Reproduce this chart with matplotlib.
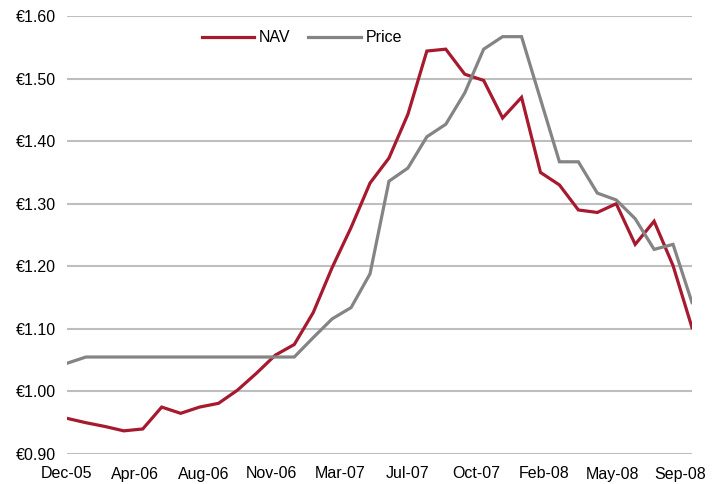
import matplotlib
matplotlib.use("Agg")
import matplotlib.pyplot as plt
import numpy as np

months = ["Dec-05","Jan-06","Feb-06","Mar-06","Apr-06","May-06","Jun-06","Jul-06","Aug-06","Sep-06","Oct-06","Nov-06",
          "Dec-06","Jan-07","Feb-07","Mar-07","Apr-07","May-07","Jun-07","Jul-07","Aug-07","Sep-07","Oct-07","Nov-07",
          "Dec-07","Jan-08","Feb-08","Mar-08","Apr-08","May-08","Jun-08","Jul-08","Aug-08","Sep-08"]
nav = [0.957, 0.950, 0.944, 0.937, 0.940, 0.975, 0.965, 0.975, 0.981, 1.002, 1.029, 1.058,
       1.075, 1.126, 1.198, 1.262, 1.333, 1.373, 1.443, 1.544, 1.547, 1.507, 1.497, 1.437,
       1.470, 1.350, 1.330, 1.290, 1.286, 1.300, 1.235, 1.272, 1.201, 1.102]
price = [1.045, 1.055, 1.055, 1.055, 1.055, 1.055, 1.055, 1.055, 1.055, 1.055, 1.055, 1.055,
         1.055, 1.086, 1.116, 1.134, 1.188, 1.336, 1.357, 1.407, 1.427, 1.477, 1.547, 1.567,
         1.567, 1.467, 1.367, 1.367, 1.317, 1.306, 1.276, 1.227, 1.235, 1.142]
xtick_labels = ["Dec-05","Apr-06","Aug-06","Nov-06","Mar-07","Jul-07","Oct-07","Feb-08","May-08","Sep-08"]
yticks = [0.90, 1.00, 1.10, 1.20, 1.30, 1.40, 1.50, 1.60]

plt.rcParams['font.family'] = ['Liberation Sans', 'DejaVu Sans']

fig = plt.figure(figsize=(7.13, 4.84), dpi=100)
ax = fig.add_axes([67/713, 1-454/484, (692-67)/713, (454-16)/484])

x = np.arange(len(months))
ax.plot(x, nav, color='#A6192E', lw=2.3, label='NAV', solid_joinstyle='miter', zorder=3)
ax.plot(x, price, color='#848484', lw=2.3, label='Price', solid_joinstyle='miter', zorder=3)

ax.set_xlim(0, len(months)-1)
ax.set_ylim(0.90, 1.60)
ax.set_yticks(yticks)
ax.set_yticklabels([f"€{v:.2f}" for v in yticks], fontsize=11.5)
ax.set_xticks(np.linspace(0, 32.4, len(xtick_labels)))
ax.set_xticklabels(xtick_labels, fontsize=11.5)
ax.tick_params(length=0, pad=8)
ax.tick_params(axis='x', pad=9)
ax.grid(axis='y', color='#BEBEBE', lw=1.5)
ax.set_axisbelow(True)
for s in ax.spines.values():
    s.set_visible(False)

ax.legend(loc='upper center', bbox_to_anchor=(0.376, 1.0), ncol=2, frameon=False,
          fontsize=11.5, handlelength=3.3, handletextpad=0.3, columnspacing=1.1)

fig.savefig("out.png", dpi=100)
